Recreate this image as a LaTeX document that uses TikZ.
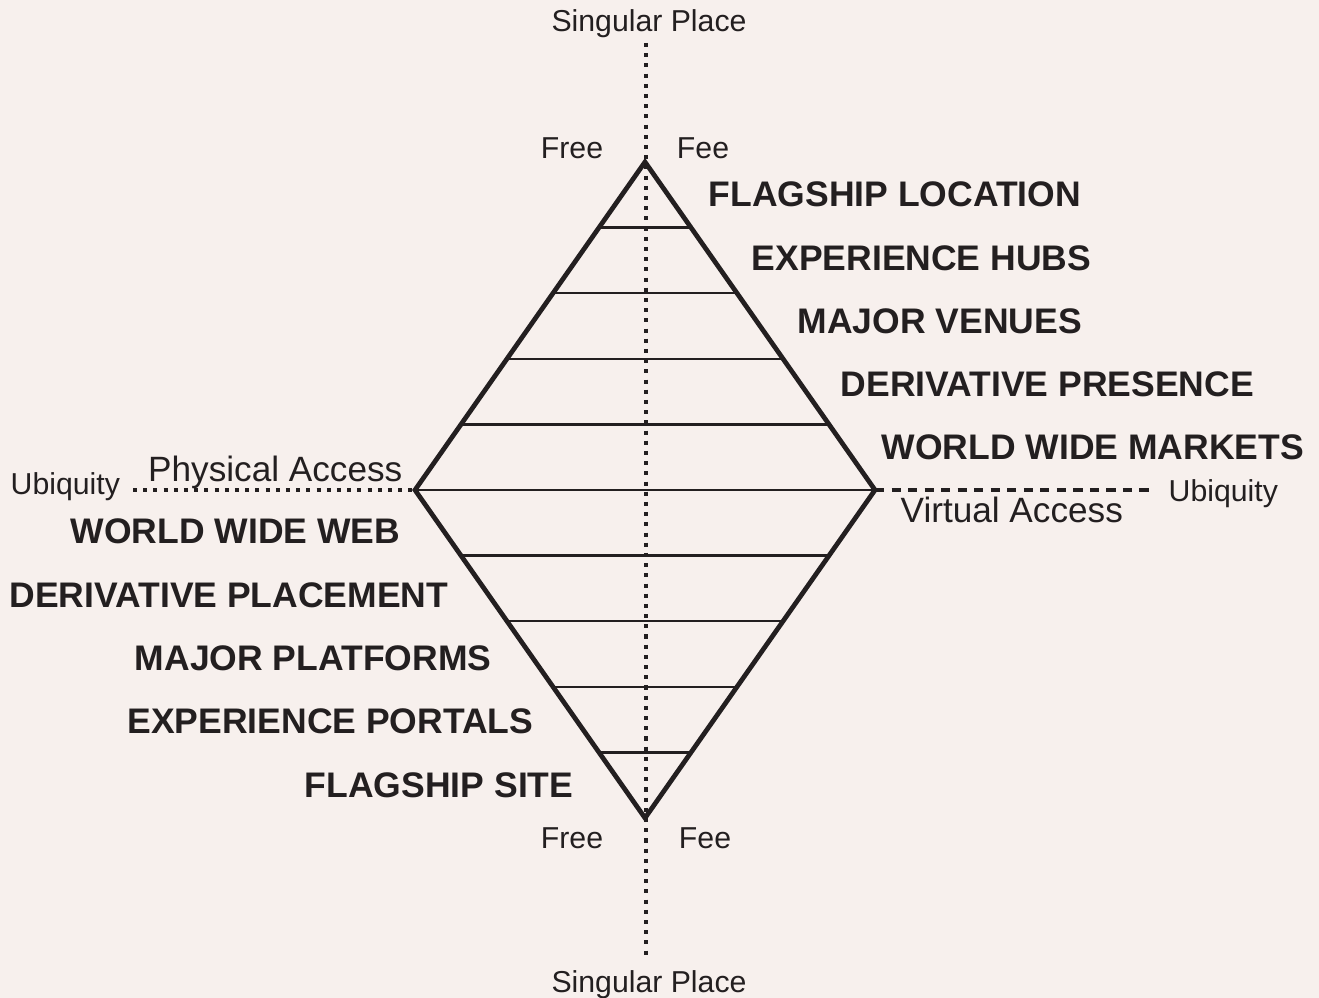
\documentclass[tikz,border=0pt]{standalone}
\usepackage{fontspec}
\setmainfont{Liberation Sans}
\usetikzlibrary{calc}
\definecolor{paper}{RGB}{247,240,237}
\definecolor{ink}{RGB}{35,31,32}

\begin{document}
\begin{tikzpicture}[x=0.01cm, y=-0.01cm, ink,
    edge/.style={line width=1.35pt, line join=miter},
    rung/.style={line width=0.7pt},
    dotline/.style={line width=1.15pt, dash pattern=on 1.15pt off 1.75pt},
    dashline/.style={line width=0.9pt, dash pattern=on 2.6pt off 2.1pt},
    tag/.style={inner sep=0pt, font=\fontsize{10.1}{12}\selectfont\bfseries},
    note/.style={inner sep=0pt, font=\fontsize{8.6}{10}\selectfont},
    axis/.style={inner sep=0pt, font=\fontsize{10}{12}\selectfont}]
  \fill[paper] (0,0) rectangle (1319,998);
  \useasboundingbox (0,0) rectangle (1319,998);

  % corners of the diamond
  \coordinate (top) at (645,162);
  \coordinate (bot) at (645,818);
  \coordinate (left) at (415,490);
  \coordinate (right) at (875,490);
  \coordinate (ntop) at (646,43);
  \coordinate (nbot) at (646,957);
  \coordinate (wend) at (133,490);
  \coordinate (eend) at (1155,490);

  % axes
  \draw[dotline] (ntop) -- (nbot);
  \draw[dotline] (wend) -- (left);
  \draw[dashline] (right) -- (eend);

  % rungs
  \draw[rung] (left) -- (right);
  \foreach \k in {1,...,4} {
    \draw[rung] ($(top)!\k/5!(left)$) -- ($(top)!\k/5!(right)$);
    \draw[rung] ($(bot)!\k/5!(left)$) -- ($(bot)!\k/5!(right)$);
  }
  \draw[edge] (top) -- (right) -- (bot) -- (left) -- cycle;

  % end labels
  \node[note, anchor=base] (sptop) at (649,32) {Singular Place};
  \node[note, anchor=base] (spbot) at (649,992) {Singular Place};
  \node[note, anchor=base] (frtop) at (572,159) {Free};
  \node[note, anchor=base] (fetop) at (703,159) {Fee};
  \node[note, anchor=base] (frbot) at (572,848) {Free};
  \node[note, anchor=base] (febot) at (705,848) {Fee};
  \node[note, anchor=base west] (ubw) at (10,495) {Ubiquity};
  \node[note, anchor=base west] (ube) at (1168,502) {Ubiquity};
  \node[axis, anchor=base east] (phys) at (403,482) {Physical Access};
  \node[axis, anchor=base west] (virt) at (900,523) {Virtual Access};

  % physical side
  \node[tag, anchor=base west] (flagloc) at (708,207) {FLAGSHIP LOCATION};
  \node[tag, anchor=base west] (exphubs) at (751,271) {EXPERIENCE HUBS};
  \node[tag, anchor=base west] (venues) at (797,334) {MAJOR VENUES};
  \node[tag, anchor=base west] (presence) at (840,397) {DERIVATIVE PRESENCE};
  \node[tag, anchor=base west] (markets) at (881,460) {WORLD WIDE MARKETS};

  % virtual side
  \node[tag, anchor=base east] (web) at (401,544) {WORLD WIDE WEB};
  \node[tag, anchor=base east] (placement) at (449,607) {DERIVATIVE PLACEMENT};
  \node[tag, anchor=base east] (platforms) at (492,670) {MAJOR PLATFORMS};
  \node[tag, anchor=base east] (portals) at (534,733) {EXPERIENCE PORTALS};
  \node[tag, anchor=base east] (flagsite) at (574,797) {FLAGSHIP SITE};
\end{tikzpicture}
\end{document}
